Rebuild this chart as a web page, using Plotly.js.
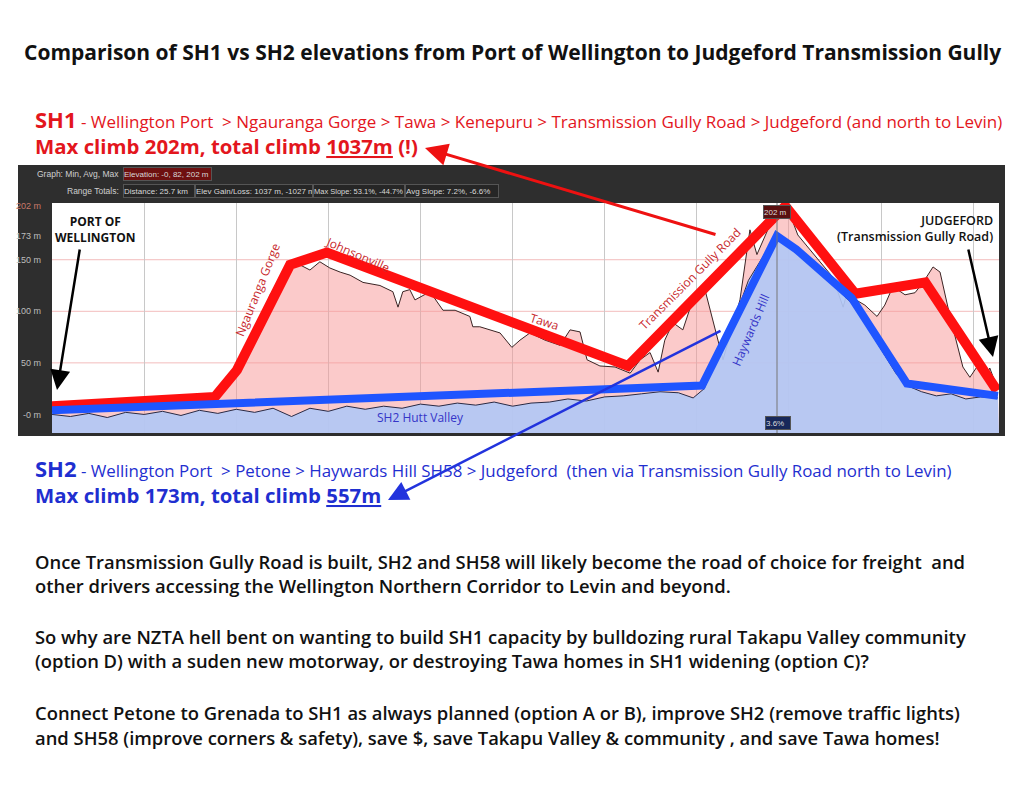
<!DOCTYPE html>
<html>
<head>
<meta charset="utf-8">
<script src="https://cdn.plot.ly/plotly-3.0.1.min.js"></script>
<style>html,body{margin:0;padding:0;background:#fff;}#chart{width:1024px;height:790px;}</style>
</head>
<body>
<div id="chart"></div>
<script>
// ---- data (distance km, elevation m) ----
const sh1RawKm = [0,1.3,2.66,4.02,4.42,4.69,4.97,5.1,5.37,5.64,5.92,6.19,6.46,6.73,7.0,7.27,7.54,7.82,8.09,8.44,8.9,9.25,9.39,9.52,9.71,9.85,10.26,10.61,10.94,11.34,11.42,11.61,12.16,12.48,12.7,12.97,13.38,13.79,14.06,14.33,14.52,14.87,15.28,15.69,15.96,16.23,16.45,16.63,16.85,17.12,17.39,17.72,18.21,18.4,18.67,18.94,19.13,19.4,19.62,19.89,20.03,20.24,20.57,20.84,21.19,21.47,21.6,21.82,22.06,22.39,22.6,22.82,23.15,23.42,23.64,23.91,24.1,24.37,24.56,24.72,24.91,25.1,25.32,25.45,25.67];
const sh1RawElev = [3,4,6,8,12,29,38,53,72,92,116,132,142,145,140,148,142,138,135,128,125,119,104,119,121,111,119,101,101,95,85,85,79,65,72,79,72,67,82,80,53,47,46,40,53,60,41,72,89,82,111,121,53,77,111,179,155,177,194,200,194,174,160,148,133,104,121,111,106,95,106,124,116,118,128,143,138,95,69,46,36,46,35,45,24];

const sh2RawKm = [0,0.5,1,1.5,2,2.5,3,3.5,4,4.5,5,5.5,6,6.5,7,7.5,8,8.5,9,9.5,10,10.5,11,11.5,12,12.5,13,13.5,14,14.5,15,15.5,16,16.5,17,17.4,17.7,18.0,18.3,18.6,18.9,19.2,19.5,19.7,19.9,20.2,20.5,20.8,21.1,21.4,21.7,22.0,22.3,22.6,22.9,23.2,23.6,24.0,24.4,24.8,25.2,25.67];
const sh2RawElev = [0,-2,1,-3,2,0,3,-1,4,1,5,2,6,-2,6,3,8,5,8,6,10,8,11,9,12,8,11,12,15,13,17,18,20,22,21,16,25,50,75,100,130,148,165,172,165,158,152,140,130,118,108,92,75,58,40,28,22,18,20,15,17,16];

const sh1RouteKm = [0,4.42,5.02,6.46,7.46,15.63,19.9,21.8,23.7,25.65];
const sh1RouteElev = [8,17,43,145,157,47,202,117,128,23];
const sh2RouteKm = [0,17.64,19.67,20.2,21.7,23.2,25.67];
const sh2RouteElev = [4,28,173,160,113,30,18];

const baseKm = [0,25.7];
const baseElev = [-18,-18];
const yTickVals = [0,50,100,150,173,202];
const yTickText = ['-0 m','50 m','100 m','150 m','173 m','<span style="color:#c87a6a">202 m</span>'];
const gridVals = [50,100,150];

// ---- pixel helpers for page furniture ----
const L=52, R=999, T=203, B=433;
const PX = x => (x-L)/(R-L);
const PY = y => (B-y)/(B-T);

const RED='#e3161d', BLUE='#1f2fd0';
const FONT='Open Sans, Lato, DejaVu Sans, sans-serif';
const SMALL='Liberation Sans Narrow, Liberation Sans, Arial, sans-serif';

const traces = [
  {x:baseKm,y:baseElev,mode:'lines',line:{width:0},hoverinfo:'skip',showlegend:false},
  {x:sh1RawKm,y:sh1RawElev,mode:'lines',fill:'tonexty',fillcolor:'rgba(247,150,150,0.5)',line:{color:'#3b2424',width:1},showlegend:false},
  {x:baseKm,y:baseElev,mode:'lines',line:{width:0},hoverinfo:'skip',showlegend:false},
  {x:sh2RawKm,y:sh2RawElev,mode:'lines',fill:'tonexty',fillcolor:'rgba(178,200,245,0.92)',line:{color:'#2a2a44',width:1},showlegend:false},
  {x:sh1RouteKm,y:sh1RouteElev,mode:'lines',line:{color:'#ff1010',width:10},showlegend:false},
  {x:sh2RouteKm,y:sh2RouteElev,mode:'lines',line:{color:'#1f55ff',width:8},showlegend:false}
];

const shapes = [
  {type:'rect',xref:'paper',yref:'paper',x0:PX(18),x1:PX(1005),y0:PY(436),y1:PY(165),fillcolor:'#2e2e2e',line:{width:0},layer:'below'},
  {type:'rect',xref:'paper',yref:'paper',x0:0,x1:1,y0:0,y1:1,fillcolor:'#ffffff',line:{width:0},layer:'below'},
  {type:'line',xref:'paper',yref:'paper',x0:PX(777),x1:PX(777),y0:0,y1:1,line:{color:'#777',width:1}}
];
gridVals.forEach(v=>shapes.push({type:'line',xref:'paper',yref:'y',x0:0,x1:1,y0:v,y1:v,line:{color:'#f3bcbc',width:1},layer:'below'}));

function txt(x,y,text,size,color,opts){
  return Object.assign({xref:'paper',yref:'paper',x:PX(x),y:PY(y),text:text,showarrow:false,xanchor:'left',yanchor:'middle',font:{family:FONT,size:size,color:color}},opts||{});
}
function para(y,text){
  return txt(33,y,text,18.4,'#111',{font:{family:FONT,size:18.4,color:'#111',weight:600}});
}
function arrow(tx,ty,sx,sy,color,w,size){
  return {xref:'paper',yref:'paper',x:PX(tx),y:PY(ty),ax:sx-tx,ay:sy-ty,text:'',showarrow:true,arrowhead:2,arrowsize:size,arrowwidth:w,arrowcolor:color};
}
function box(x,y,w,text,bg,opts){
  return Object.assign({xref:'paper',yref:'paper',x:PX(x),y:PY(y),width:w,height:12,text:text,showarrow:false,xanchor:'left',yanchor:'middle',align:'left',bgcolor:bg,bordercolor:'#555',borderwidth:1,borderpad:0,font:{family:SMALL,size:8,color:'#d8d8d8'}},opts||{});
}

const annotations = [
  txt(512,52,'<b>Comparison of SH1 vs SH2 elevations from Port of Wellington to Judgeford Transmission Gully</b>',21,'#111',{xanchor:'center'}),
  txt(33,119,'<b><span style="font-size:22px">SH1</span></b> - Wellington Port  &gt; Ngauranga Gorge &gt; Tawa &gt; Kenepuru &gt; Transmission Gully Road &gt; Judgeford (and north to Levin)',17,RED),
  txt(33,146,'<b>Max climb 202m, total climb <span style="text-decoration:underline">1037m</span> (!)</b>',20.4,RED),
  txt(33,468,'<b><span style="font-size:22px">SH2</span></b> - Wellington Port  &gt; Petone &gt; Haywards Hill SH58 &gt; Judgeford  (then via Transmission Gully Road north to Levin)',16.9,BLUE),
  txt(33,495,'<b>Max climb 173m, total climb <span style="text-decoration:underline">557m</span></b>',20.4,BLUE),
  para(561,'Once Transmission Gully Road is built, SH2 and SH58 will likely become the road of choice for freight  and'),
  para(585,'other drivers accessing the Wellington Northern Corridor to Levin and beyond.'),
  para(636,'So why are NZTA hell bent on wanting to build SH1 capacity by bulldozing rural Takapu Valley community'),
  para(660,'(option D) with a suden new motorway, or destroying Tawa homes in SH1 widening (option C)?'),
  para(712,'Connect Petone to Grenada to SH1 as always planned (option A or B), improve SH2 (remove traffic lights)'),
  para(737,'and SH58 (improve corners &amp; safety), save $, save Takapu Valley &amp; community , and save Tawa homes!'),

  // header panel
  txt(121,174,'Graph: Min, Avg, Max',8.5,'#cfcfcf',{xanchor:'right',font:{family:SMALL,size:8.5,color:'#cfcfcf'}}),
  box(123,174,87,'Elevation: -0, 82, 202 m','#6e1010'),
  txt(121,191,'Range Totals:',8.5,'#cfcfcf',{xanchor:'right',font:{family:SMALL,size:8.5,color:'#cfcfcf'}}),
  box(123,191,70,'Distance: 25.7 km','#262626'),
  box(195,191,116,'Elev Gain/Loss: 1037 m, -1027 m','#262626'),
  box(313,191,90,'Max Slope: 53.1%, -44.7%','#262626',{font:{family:SMALL,size:7.5,color:'#d8d8d8'}}),
  box(405,191,92,'Avg Slope: 7.2%, -6.6%','#262626'),
  box(763,212,26,'202 m','#5a1010',{font:{family:SMALL,size:8,color:'#ddd'}}),
  box(765,423,24,'3.6%','#17285a',{font:{family:SMALL,size:8,color:'#ddd'}}),

  // in-chart labels
  txt(95,229,'<b>PORT OF<br>WELLINGTON</b>',12,'#111',{xanchor:'center'}),
  txt(995,228,'JUDGEFORD<br>(Transmission Gully Road)',12.5,'#111',{xanchor:'right',align:'right',font:{family:FONT,size:12.5,color:'#111',weight:600}}),
  txt(257,290,'Ngauranga Gorge',12,'#c8282d',{xanchor:'center',textangle:-68}),
  txt(358,254,'Johnsonville',12,'#c8282d',{xanchor:'center',textangle:24}),
  txt(544,321,'Tawa',12,'#c8282d',{xanchor:'center',textangle:17}),
  txt(689,279,'Transmission Gully Road',12,'#c8282d',{xanchor:'center',textangle:-45}),
  txt(750,330,'Haywards Hill',12,'#3535c8',{xanchor:'center',textangle:-67}),
  txt(420,417,'SH2 Hutt Valley',12,'#3535c8',{xanchor:'center'}),

  // arrows
  arrow(57,390,80,248,'#000',2.5,1.6),
  arrow(993,357,968,248,'#000',2.5,1.6),
  arrow(425,148,717,235,'#ee1111',3,1.5),
  arrow(388,500,722,330,'#2233dd',2.5,1.6)
];

const layout = {
  width:1024,height:790,
  margin:{l:L,r:1024-R,t:T,b:790-B,pad:0},
  paper_bgcolor:'#ffffff',plot_bgcolor:'#ffffff',
  showlegend:false,
  xaxis:{range:[0,25.7],dtick:2.5,tick0:0,showgrid:true,gridcolor:'#c8c8c8',showticklabels:false,zeroline:false,showline:false,ticks:''},
  yaxis:{range:[-18,205],tickvals:yTickVals,ticktext:yTickText,showgrid:false,zeroline:false,showline:false,ticks:'',ticklabelstandoff:10,tickfont:{family:SMALL,size:9,color:'#bdbdbd'}},
  shapes:shapes,
  annotations:annotations
};

Plotly.newPlot('chart',traces,layout,{displayModeBar:false,staticPlot:true});
</script>
</body>
</html>
